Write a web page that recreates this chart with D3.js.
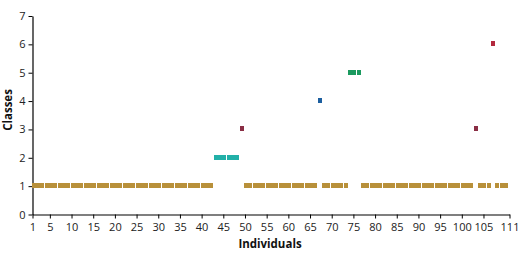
<!DOCTYPE html>
<html><head><meta charset="utf-8">
<script src="https://cdn.jsdelivr.net/npm/d3@7"></script>
<style>
body{margin:0;background:#fff;}
text{font-family:"Open Sans",sans-serif;}
</style></head><body>
<svg id="c" width="532" height="260"></svg>
<script>
const individuals = [1,2,3,4,5,6,7,8,9,10,11,12,13,14,15,16,17,18,19,20,21,22,23,24,25,26,27,28,29,30,31,32,33,34,35,36,37,38,39,40,41,42,43,44,45,46,47,48,49,50,51,52,53,54,55,56,57,58,59,60,61,62,63,64,65,66,67,68,69,70,71,72,73,74,75,76,77,78,79,80,81,82,83,84,85,86,87,88,89,90,91,92,93,94,95,96,97,98,99,100,101,102,103,104,105,106,107,108,109,110];
const classes = [1,1,1,1,1,1,1,1,1,1,1,1,1,1,1,1,1,1,1,1,1,1,1,1,1,1,1,1,1,1,1,1,1,1,1,1,1,1,1,1,1,1,
  2,2,2,2,2,2,
  3,
  1,1,1,1,1,1,1,1,1,1,1,1,1,1,1,1,1,
  4,
  1,1,1,1,1,1,
  5,5,5,
  1,1,1,1,1,1,1,1,1,1,1,1,1,1,1,1,1,1,1,1,1,1,1,1,1,1,
  3,
  1,1,1,
  6,
  1,1,1];
const xTicks = [1,5,10,15,20,25,30,35,40,45,50,55,60,65,70,75,80,85,90,95,100,105,111];
const yTicks = [0,1,2,3,4,5,6,7];
const classColors = ["#b8903a","#22b0a8","#8a2e45","#1c5f9f","#1b9a5f","#b3293d"];

const svg = d3.select("#c");
const x = d3.scaleLinear().domain([1,111]).range([32.5,509.5]);
const y = d3.scaleLinear().domain([0,7]).range([214.5,16]);

const xa = svg.append("g").attr("transform","translate(0,214.5)")
  .call(d3.axisBottom(x).tickValues(xTicks).tickFormat(d3.format("d")).tickSize(4).tickSizeOuter(0));
const ya = svg.append("g").attr("transform","translate(32.5,0)")
  .call(d3.axisLeft(y).tickValues(yTicks).tickFormat(d3.format("d")).tickSize(4).tickSizeOuter(0));
[xa,ya].forEach(a=>{
  a.select(".domain").attr("stroke","#000").attr("stroke-width",1.2);
  a.selectAll(".tick line").attr("stroke","#000");
  a.selectAll(".tick text").attr("font-size",11).attr("fill","#222").attr("font-family","Open Sans, sans-serif");
});
xa.selectAll(".tick text").attr("dy","0.75em").attr("y",8);
ya.selectAll(".tick text").attr("x",-7);

svg.selectAll("rect.pt").data(individuals).enter().append("rect")
  .attr("class","pt")
  .attr("x",d=>Math.round(x(d)-1))
  .attr("y",(d,i)=>Math.round(y(classes[i])-3))
  .attr("width",4).attr("height",5)
  .attr("shape-rendering","crispEdges")
  .attr("fill",(d,i)=>classColors[classes[i]-1]);

svg.append("text").attr("x",270).attr("y",248).attr("text-anchor","middle")
  .attr("font-size",11.5).attr("font-weight","bold").attr("fill","#111").text("Individuals");
svg.append("text").attr("transform","translate(12,110) rotate(-90)").attr("text-anchor","middle")
  .attr("font-size",11.5).attr("font-weight","bold").attr("fill","#111").text("Classes");
</script></body></html>
